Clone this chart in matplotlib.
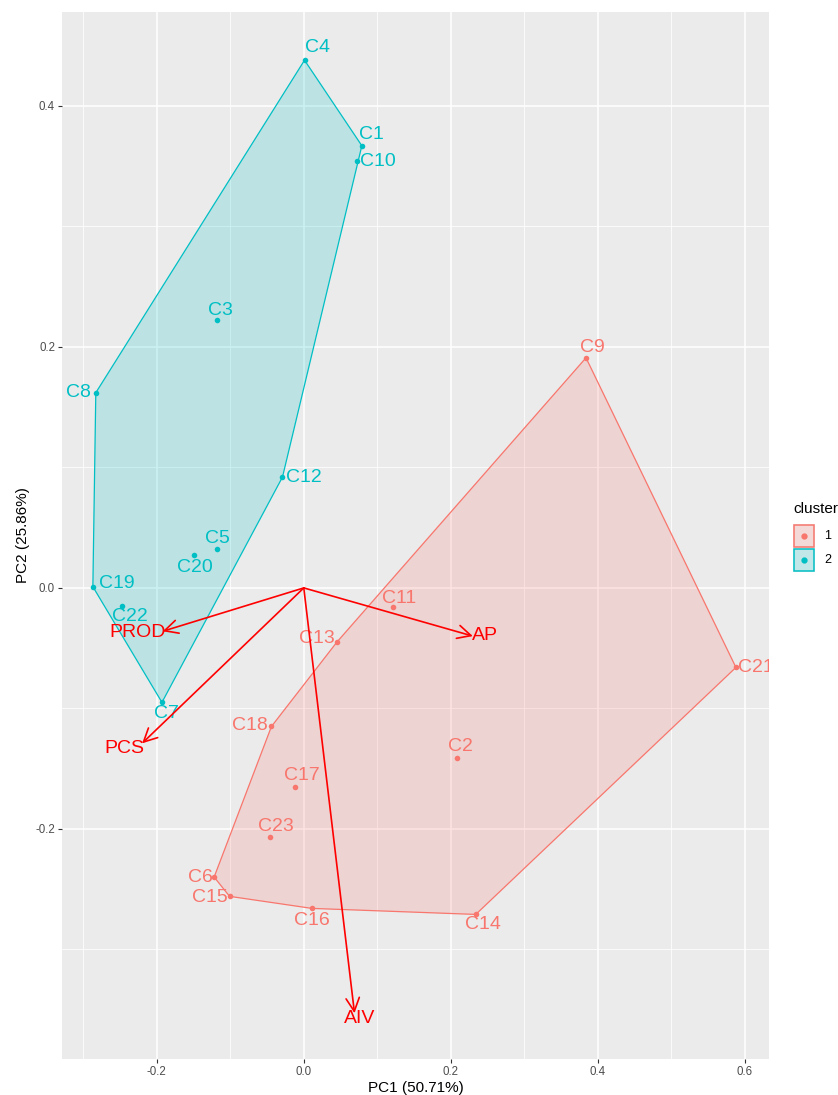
import matplotlib
matplotlib.use("Agg")
import matplotlib.pyplot as plt
from matplotlib.patches import Polygon, Rectangle
import numpy as np

plt.rcParams['font.family'] = ['Liberation Sans', 'DejaVu Sans']

# PCA scores of the samples (PC1, PC2) and their k-means cluster
samples = ['C1', 'C2', 'C3', 'C4', 'C5', 'C6', 'C7', 'C8', 'C9', 'C10', 'C11', 'C12',
           'C13', 'C14', 'C15', 'C16', 'C17', 'C18', 'C19', 'C20', 'C21', 'C22', 'C23']
pc1 = [0.079, 0.208, -0.118, 0.001, -0.118, -0.122, -0.193, -0.283, 0.384, 0.072, 0.121, -0.029,
       0.045, 0.234, -0.101, 0.011, -0.012, -0.044, -0.287, -0.150, 0.588, -0.248, -0.046]
pc2 = [0.367, -0.141, 0.222, 0.438, 0.032, -0.240, -0.095, 0.162, 0.191, 0.354, -0.016, 0.092,
       -0.045, -0.271, -0.256, -0.266, -0.165, -0.115, 0.001, 0.027, -0.066, -0.015, -0.207]
cluster = [2, 1, 2, 2, 2, 1, 2, 2, 1, 2, 1, 2,
           1, 1, 1, 1, 1, 1, 2, 2, 1, 2, 1]

# loadings of the variables
variables = ['PROD', 'PCS', 'AP', 'AIV']
load1 = [-0.192, -0.220, 0.230, 0.069]
load2 = [-0.036, -0.129, -0.040, -0.353]

colors = {1: '#F8766D', 2: '#00BFC4'}

# label nudges in pixels (dx, dy), dy positive = up
sample_nudge = {
    'C1': (10, 11), 'C2': (4, 11), 'C3': (3, 10), 'C4': (13, 13), 'C5': (0, 11),
    'C6': (-14, 0), 'C7': (4, -11), 'C8': (-17, 0), 'C9': (6, 10), 'C10': (21, 0),
    'C11': (6, 9), 'C12': (21, 0), 'C13': (-20, 4), 'C14': (7, -10), 'C15': (-20, -1),
    'C16': (0, -12), 'C17': (7, 11), 'C18': (-22, 1), 'C19': (24, 3), 'C20': (1, -12),
    'C21': (20, 0), 'C22': (8, -11), 'C23': (6, 11),
}
var_nudge = {'PROD': (-25, -1), 'PCS': (-18, -5), 'AP': (12, 1), 'AIV': (5, -5)}


def convex_hull(pts):
    pts = sorted(set(pts))
    if len(pts) < 3:
        return pts

    def cross(o, a, b):
        return (a[0] - o[0]) * (b[1] - o[1]) - (a[1] - o[1]) * (b[0] - o[0])

    lower, upper = [], []
    for p in pts:
        while len(lower) >= 2 and cross(lower[-2], lower[-1], p) <= 0:
            lower.pop()
        lower.append(p)
    for p in reversed(pts):
        while len(upper) >= 2 and cross(upper[-2], upper[-1], p) <= 0:
            upper.pop()
        upper.append(p)
    return lower[:-1] + upper[:-1]


W, H = 838, 1095
fig = plt.figure(figsize=(W / 100, H / 100), dpi=100)
ax = fig.add_axes([62 / W, 1 - 1059 / H, (769 - 62) / W, (1059 - 12) / H])
ax.set_facecolor('#EBEBEB')
for s in ax.spines.values():
    s.set_visible(False)

ax.set_xlim(-0.329, 0.633)
ax.set_ylim(-0.391, 0.478)
ax.set_xticks([-0.2, 0.0, 0.2, 0.4, 0.6])
ax.set_yticks([-0.2, 0.0, 0.2, 0.4])
ax.set_xticks([-0.3, -0.1, 0.1, 0.3, 0.5], minor=True)
ax.set_yticks([-0.3, -0.1, 0.1, 0.3], minor=True)
ax.grid(which='major', color='white', lw=1.1)
ax.grid(which='minor', color='white', lw=0.55)
ax.set_axisbelow(True)
ax.tick_params(which='major', length=3, width=0.8, color='#333333',
               labelsize=8.3, labelcolor='#4D4D4D', pad=2)
ax.tick_params(which='minor', length=0)
ax.set_xticklabels(['-0.2', '0.0', '0.2', '0.4', '0.6'])
ax.set_yticklabels(['-0.2', '0.0', '0.2', '0.4'])
ax.set_xlabel('PC1 (50.71%)', fontsize=11, labelpad=2)
ax.set_ylabel('PC2 (25.86%)', fontsize=11, labelpad=4)

x = np.array(pc1)
y = np.array(pc2)
cl = np.array(cluster)

# cluster frames
for k in (1, 2):
    m = cl == k
    hull = convex_hull(list(zip(x[m], y[m])))
    ax.add_patch(Polygon(hull, closed=True, facecolor=colors[k], alpha=0.2,
                         edgecolor='none', zorder=1))
    ax.add_patch(Polygon(hull, closed=True, facecolor='none',
                         edgecolor=colors[k], lw=0.9, zorder=2))

# sample points and labels
for k in (1, 2):
    m = cl == k
    ax.scatter(x[m], y[m], s=16, color=colors[k], zorder=3, linewidths=0)
for name, xi, yi, k in zip(samples, pc1, pc2, cluster):
    dx, dy = sample_nudge[name]
    t = ax.annotate(name, (xi, yi), xytext=(dx, dy), textcoords='offset pixels',
                    ha='center', va='center', fontsize=14, color=colors[k], zorder=4)
    t.set_clip_on(True)
    t.set_clip_box(ax.bbox)

# loading arrows
for name, lx, ly in zip(variables, load1, load2):
    ax.annotate('', xy=(lx, ly), xytext=(0, 0),
                arrowprops=dict(arrowstyle='->,head_length=0.6,head_width=0.3',
                                color='#FF0000', lw=1.2, mutation_scale=16,
                                shrinkA=0, shrinkB=0), zorder=5)
    dx, dy = var_nudge[name]
    ax.annotate(name, (lx, ly), xytext=(dx, dy), textcoords='offset pixels',
                ha='center', va='center', fontsize=14, color='#FF0000', zorder=6)

# legend
def fx(px):
    return px / W


def fy(py):
    return 1 - py / H


fig.text(fx(793), fy(509), 'cluster', fontsize=11, ha='left', va='center')
for i, k in enumerate((1, 2)):
    top = 524 + 24 * i
    fig.add_artist(Rectangle((fx(793), fy(top + 24)), 22 / W, 24 / H,
                             transform=fig.transFigure, facecolor='#F2F2F2',
                             edgecolor='none'))
    fig.add_artist(Rectangle((fx(794), fy(top + 23)), 20 / W, 22 / H,
                             transform=fig.transFigure, facecolor=colors[k], alpha=0.2,
                             edgecolor='none'))
    fig.add_artist(Rectangle((fx(794), fy(top + 23)), 20 / W, 22 / H,
                             transform=fig.transFigure, facecolor='none',
                             edgecolor=colors[k], lw=1.1))
    fig.add_artist(plt.Line2D([fx(804)], [fy(top + 12)], marker='o', markersize=3.5,
                              color=colors[k], transform=fig.transFigure))
    fig.text(fx(824), fy(top + 12), str(k), fontsize=9, ha='left', va='center')

fig.savefig('out.png', dpi=100)
